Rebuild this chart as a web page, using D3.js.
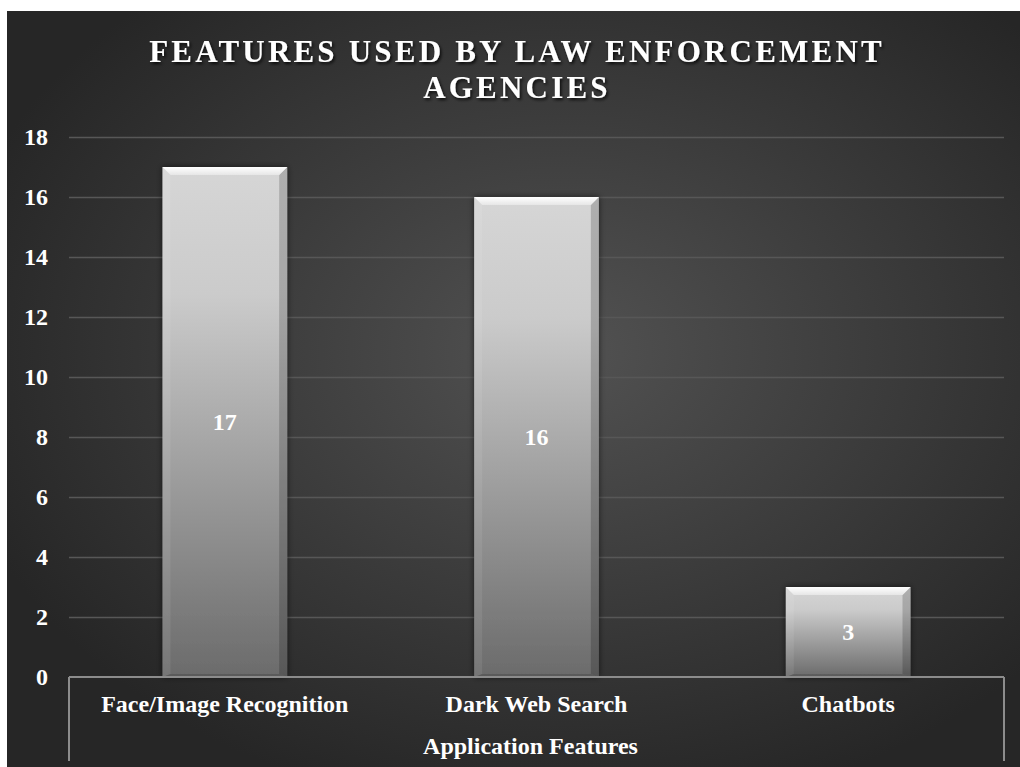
<!DOCTYPE html>
<html>
<head>
<meta charset="utf-8">
<script src="https://cdn.jsdelivr.net/npm/d3@7/dist/d3.min.js"></script>
<style>
  html, body { margin: 0; padding: 0; background: #ffffff; }
  svg { display: block; }
</style>
</head>
<body>
<svg id="chart" width="1020" height="767"></svg>
<script>
// ---- data ----
const categories = ["Face/Image Recognition", "Dark Web Search", "Chatbots"];
const values = [17, 16, 3];
const yTicks = [0, 2, 4, 6, 8, 10, 12, 14, 16, 18];
const titleLines = ["FEATURES USED BY LAW ENFORCEMENT", "AGENCIES"];
const axisTitle = "Application Features";

// ---- layout ----
const W = 1020, H = 767;
const frame = { x: 7, y: 11 };
const plot = { left: 69, right: 1004, top: 137, bottom: 677 };
const font = "'Liberation Serif', 'Times New Roman', serif";
const labelSize = 24;

const svg = d3.select("#chart");
const defs = svg.append("defs");

// background radial gradient
const bg = defs.append("radialGradient").attr("id", "bg")
  .attr("cx", "55%").attr("cy", "45%").attr("r", "62%");
bg.append("stop").attr("offset", "0%").attr("stop-color", "#525252");
bg.append("stop").attr("offset", "100%").attr("stop-color", "#262626");

// bar gradient
const bar = defs.append("linearGradient").attr("id", "barGrad")
  .attr("x1", 0).attr("y1", 0).attr("x2", 0).attr("y2", 1);
bar.append("stop").attr("offset", "0%").attr("stop-color", "#d6d6d6");
bar.append("stop").attr("offset", "25%").attr("stop-color", "#cbcbcb");
bar.append("stop").attr("offset", "100%").attr("stop-color", "#6b6b6b");

const topBevel = defs.append("linearGradient").attr("id", "topBevel")
  .attr("x1", 0).attr("y1", 0).attr("x2", 0).attr("y2", 1);
topBevel.append("stop").attr("offset", "0%").attr("stop-color", "#ffffff");
topBevel.append("stop").attr("offset", "100%").attr("stop-color", "#e6e6e6");

// shadows
const sh = defs.append("filter").attr("id", "barShadow")
  .attr("x", "-20%").attr("y", "-20%").attr("width", "140%").attr("height", "140%");
sh.append("feDropShadow").attr("dx", 0).attr("dy", 0).attr("stdDeviation", 3)
  .attr("flood-color", "#000").attr("flood-opacity", 0.6);

const tsh = defs.append("filter").attr("id", "textShadow")
  .attr("x", "-10%").attr("y", "-30%").attr("width", "120%").attr("height", "160%");
tsh.append("feDropShadow").attr("dx", 1.5).attr("dy", 2).attr("stdDeviation", 1.5)
  .attr("flood-color", "#000").attr("flood-opacity", 0.8);

// background
svg.append("rect").attr("x", frame.x).attr("y", frame.y)
  .attr("width", W - frame.x).attr("height", H - frame.y)
  .attr("fill", "url(#bg)");

// scales
const x = d3.scaleBand().domain(categories)
  .range([plot.left, plot.right]).paddingInner(0.6).paddingOuter(0.3);
const y = d3.scaleLinear().domain([0, 18]).range([plot.bottom, plot.top]);

// gridlines
const grid = svg.append("g")
  .attr("transform", `translate(${plot.left},0)`)
  .call(d3.axisLeft(y).tickValues(yTicks.filter(t => t > 0)).tickSize(-(plot.right - plot.left)).tickFormat(""));
grid.select(".domain").remove();
grid.selectAll("line").attr("stroke", "#575757").attr("stroke-width", 1.3);

// y tick labels
const yAxis = svg.append("g")
  .attr("transform", `translate(48,0)`)
  .call(d3.axisLeft(y).tickValues(yTicks).tickSize(0).tickPadding(0));
yAxis.select(".domain").remove();
yAxis.selectAll("text")
  .attr("fill", "#ffffff").attr("font-family", font).attr("font-weight", "bold")
  .attr("font-size", labelSize).attr("text-anchor", "end").attr("dy", "0.33em");

// bars
const bw = x.bandwidth();
const bev = 8;
const barsG = svg.append("g");
categories.forEach((c, i) => {
  const x0 = x(c), x1 = x0 + bw, y0 = y(values[i]), y1 = y(0);
  const g = barsG.append("g");
  g.append("rect").attr("x", x0).attr("y", y0).attr("width", bw).attr("height", y1 - y0)
    .attr("fill", "url(#barGrad)").attr("filter", "url(#barShadow)");
  // left bevel (light)
  g.append("path")
    .attr("d", `M${x0},${y0} L${x0 + bev},${y0 + bev} L${x0 + bev},${y1 - 3} L${x0},${y1} Z`)
    .attr("fill", "#ffffff").attr("opacity", 0.08);
  // right bevel (dark)
  g.append("path")
    .attr("d", `M${x1},${y0} L${x1 - bev},${y0 + bev} L${x1 - bev},${y1 - 3} L${x1},${y1} Z`)
    .attr("fill", "#000000").attr("opacity", 0.18);
  // bottom bevel
  g.append("path")
    .attr("d", `M${x0},${y1} L${x0 + bev},${y1 - 3} L${x1 - bev},${y1 - 3} L${x1},${y1} Z`)
    .attr("fill", "#000000").attr("opacity", 0.15);
  // top bevel (bright)
  g.append("path")
    .attr("d", `M${x0},${y0} L${x1},${y0} L${x1 - bev},${y0 + bev} L${x0 + bev},${y0 + bev} Z`)
    .attr("fill", "url(#topBevel)");
  // data label
  g.append("text")
    .attr("x", x0 + bw / 2).attr("y", (y0 + y1) / 2)
    .attr("dy", "0.33em").attr("text-anchor", "middle")
    .attr("fill", "#ffffff").attr("font-family", font).attr("font-weight", "bold")
    .attr("font-size", labelSize).text(values[i]);
});

// category axis lines
const axisColor = "#8c8c8c";
svg.append("line").attr("x1", plot.left).attr("x2", plot.right)
  .attr("y1", plot.bottom).attr("y2", plot.bottom)
  .attr("stroke", axisColor).attr("stroke-width", 2);
[plot.left, plot.right].forEach(px => {
  svg.append("line").attr("x1", px).attr("x2", px)
    .attr("y1", plot.bottom).attr("y2", 761)
    .attr("stroke", axisColor).attr("stroke-width", 2);
});

// category labels
const xAxis = svg.append("g")
  .attr("transform", `translate(0,${plot.bottom})`)
  .call(d3.axisBottom(x).tickSize(0).tickPadding(0));
xAxis.select(".domain").remove();
xAxis.selectAll("text")
  .attr("fill", "#ffffff").attr("font-family", font).attr("font-weight", "bold")
  .attr("font-size", labelSize).attr("dy", null).attr("y", 35);

// axis title
svg.append("text")
  .attr("x", (plot.left + plot.right) / 2 - 6).attr("y", 754)
  .attr("text-anchor", "middle")
  .attr("fill", "#ffffff").attr("font-family", font).attr("font-weight", "bold")
  .attr("font-size", labelSize).text(axisTitle);

// chart title
const title = svg.append("text")
  .attr("text-anchor", "middle")
  .attr("fill", "#ffffff").attr("font-family", font).attr("font-weight", "bold")
  .attr("font-size", 31).attr("letter-spacing", 3.2)
  .attr("filter", "url(#textShadow)");
titleLines.forEach((t, i) => {
  title.append("tspan").attr("x", 517).attr("y", 62 + i * 36).text(t);
});
</script>
</body>
</html>
